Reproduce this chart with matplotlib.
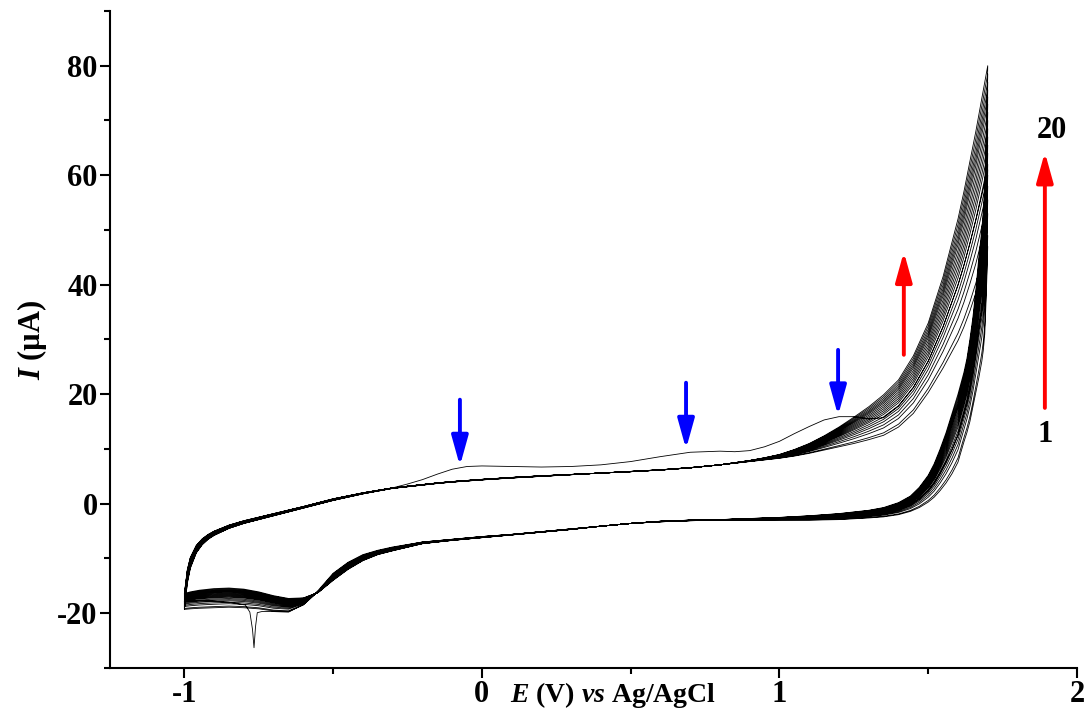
import numpy as np
import matplotlib
matplotlib.use('Agg')
import matplotlib.pyplot as plt
from matplotlib.ticker import MultipleLocator

# ---- data ----
# anodic sweep potentials (V)
E_an = [-1.0, -0.99, -0.98, -0.96, -0.94, -0.92, -0.90, -0.85, -0.80, -0.70,
        -0.60, -0.50, -0.40, -0.30, -0.25, -0.20, -0.15, -0.10, -0.05,
        0.0, 0.1, 0.2, 0.3, 0.4, 0.5, 0.6, 0.7, 0.8, 0.85, 0.9, 0.95,
        1.0, 1.05, 1.1, 1.15, 1.2, 1.25, 1.3, 1.35,
        1.4, 1.45, 1.5, 1.55, 1.6, 1.62, 1.64, 1.66, 1.68, 1.70]

# cycle 1 anodic (with the three oxidation waves)
I_an_c1 = [-17.8, -14.0, -11.5, -8.9, -7.4, -6.4, -5.7, -4.5, -3.6, -2.2,
           -0.8, 0.6, 1.8, 2.9, 3.6, 4.4, 5.4, 6.3, 6.8,
           6.9, 6.8, 6.7, 6.8, 7.1, 7.7, 8.6, 9.4, 9.6, 9.5, 9.7, 10.4,
           11.4, 12.8, 14.1, 15.3, 15.9, 15.9, 15.5, 15.7,
           17.8, 21.2, 26.0, 32.3, 40.0, 43.6, 47.5, 51.8, 56.3, 61.0]

# lowest regular cycle (2) anodic
I_an_lo = [-19.3, -14.5, -11.8, -9.0, -7.5, -6.5, -5.8, -4.5, -3.6, -2.2,
           -0.8, 0.6, 1.8, 2.8, 3.1, 3.4, 3.7, 3.95, 4.15,
           4.35, 4.7, 5.0, 5.3, 5.6, 5.9, 6.2, 6.6, 7.1, 7.4, 7.7, 8.0,
           8.3, 8.7, 9.2, 9.8, 10.4, 11.0, 11.7, 12.5,
           14.0, 16.5, 20.3, 24.8, 29.8, 32.3, 35.2, 38.5, 42.5, 47.0]

# last cycle (20) anodic
I_an_hi = [-16.4, -12.0, -9.8, -7.6, -6.4, -5.6, -5.0, -3.9, -3.1, -1.8,
           -0.5, 0.9, 2.0, 2.9, 3.2, 3.5, 3.8, 4.05, 4.25,
           4.45, 4.8, 5.1, 5.35, 5.6, 5.85, 6.15, 6.55, 7.1, 7.5, 7.9, 8.4,
           9.0, 9.9, 11.0, 12.4, 14.0, 15.8, 17.7, 19.9,
           22.6, 27.0, 33.0, 41.5, 52.0, 57.0, 62.5, 68.0, 74.0, 80.0]

# cathodic sweep potentials (V)
E_ca = [1.70, 1.698, 1.695, 1.69, 1.685, 1.68, 1.67, 1.66, 1.65, 1.64, 1.63, 1.62,
        1.60, 1.58, 1.56, 1.54, 1.52, 1.50, 1.47, 1.44, 1.40, 1.35, 1.30,
        1.20, 1.10, 1.0, 0.9, 0.8, 0.7, 0.6, 0.5, 0.4, 0.3, 0.2, 0.1, 0.0,
        -0.1, -0.2, -0.3, -0.35, -0.4, -0.45, -0.5, -0.55, -0.6, -0.65, -0.7,
        -0.75, -0.8, -0.85, -0.9, -0.95, -0.98, -1.0]

I_ca_lo = [47, 43, 38, 31, 28, 26, 23, 20.3, 17.5, 15, 13, 11.3,
           7.6, 5.5, 3.8, 2.4, 1.2, 0.3, -0.7, -1.4, -2.0, -2.4, -2.6,
           -2.9, -3.0, -3.0, -3.0, -3.0, -3.1, -3.3, -3.6, -4.1, -4.6, -5.1, -5.6, -6.0,
           -6.5, -7.0, -8.0, -8.6, -9.4, -10.8, -12.8, -16.0, -18.5, -19.7, -19.6,
           -19.2, -19.0, -18.9, -19.0, -19.1, -19.2, -19.3]

I_ca_hi = [80, 74, 67, 58, 53.5, 50, 45, 39, 34, 30, 26.5, 24,
           20, 16.5, 13, 10, 7.3, 5.2, 3.0, 1.4, 0.2, -0.7, -1.2,
           -1.8, -2.2, -2.5, -2.7, -2.9, -3.0, -3.2, -3.6, -4.1, -4.7, -5.2, -5.7, -6.2,
           -6.7, -7.3, -8.6, -9.3, -10.4, -12.0, -14.0, -16.2, -17.2, -17.3, -16.8,
           -16.1, -15.6, -15.4, -15.5, -15.8, -16.1, -16.4]

# cycle 1 cathodic: same potentials down to -0.7 V, then the sharp spike
E_ca1_tail = [-0.74, -0.755, -0.761, -0.766, -0.771, -0.78, -0.795, -0.85, -0.9, -0.95, -1.0]
I_ca1 = [61, 56, 50, 42.5, 38.5, 35.5, 32, 28, 24.5, 21, 18.5, 16.5,
         12.6, 9.9, 7.7, 5.6, 3.8, 2.4, 0.9, -0.2, -1.1, -1.7, -2.0,
         -2.4, -2.7, -2.8, -2.9, -3.0, -3.1, -3.3, -3.6, -4.1, -4.6, -5.1, -5.6, -6.0,
         -6.5, -7.0, -7.9, -8.5, -9.3, -10.7, -12.7, -15.8, -18.4, -19.8, -19.7,
         -19.7, -19.9, -22.5, -26.3, -23.0, -19.8, -18.5, -18.0, -17.8, -17.7, -17.8]

# anodic vertex current of cycles 2..20 (uA), sets where each cycle sits in the band
vertex_I = [47, 49, 53, 55.5, 58, 60, 62, 64, 65.5, 67, 68.5, 70, 71.5, 73,
            74.3, 75.6, 77, 78.5, 80]

# arrows
blue_x = [-0.074, 0.686, 1.197]
blue_from = [19.0, 22.1, 28.1]
blue_to = [6.9, 10.0, 16.1]
red_x = [1.418, 1.892]
red_from = [27.2, 17.5]
red_to = [46.0, 64.2]

# ---- build the continuous trace ----
an_lo, an_hi = np.array(I_an_lo), np.array(I_an_hi)
ca_lo, ca_hi = np.array(I_ca_lo), np.array(I_ca_hi)
v0, v1 = vertex_I[0], vertex_I[-1]
E_ca1 = E_ca[:47] + E_ca1_tail

E_all = [np.array(E_an), np.array(E_ca1)]
I_all = [np.array(I_an_c1), np.array(I_ca1)]
for v in vertex_I:
    w = (v - v0) / (v1 - v0)
    E_all += [np.array(E_an), np.array(E_ca)]
    I_all += [an_lo + w * (an_hi - an_lo), ca_lo + w * (ca_hi - ca_lo)]
E_trace = np.concatenate(E_all)
I_trace = np.concatenate(I_all)

# ---- plot ----
plt.rcParams['font.family'] = 'Liberation Serif'
plt.rcParams['font.weight'] = 'bold'
plt.rcParams['axes.unicode_minus'] = False
plt.rcParams['mathtext.fontset'] = 'custom'
plt.rcParams['mathtext.it'] = 'Liberation Serif:italic:bold'
plt.rcParams['mathtext.rm'] = 'Liberation Serif:bold'

fig = plt.figure(figsize=(10.87, 7.27), dpi=100)
ax = fig.add_axes([0.1012, 0.0812, 0.8896, 0.9037])

ax.plot(E_trace, I_trace, color='black', lw=0.6)

for x, y0, y1 in zip(blue_x, blue_from, blue_to):
    ax.annotate('', xy=(x, y1), xytext=(x, y0),
                arrowprops=dict(arrowstyle='-|>,head_length=0.9,head_width=0.25',
                                color='blue', lw=2.8, mutation_scale=20,
                                shrinkA=0, shrinkB=0))
for x, y0, y1 in zip(red_x, red_from, red_to):
    ax.annotate('', xy=(x, y1), xytext=(x, y0),
                arrowprops=dict(arrowstyle='-|>,head_length=0.9,head_width=0.25',
                                color='red', lw=2.8, mutation_scale=20,
                                shrinkA=0, shrinkB=0))

ax.text(1.916, 68.2, '20', ha='center', va='center', fontsize=22, fontweight='bold')
ax.text(1.892, 12.6, '1', ha='center', va='center', fontsize=22, fontweight='bold')

ax.set_xlim(-1.25, 2.0)
ax.set_ylim(-30, 90)
ax.spines['top'].set_visible(False)
ax.spines['right'].set_visible(False)
ax.spines['left'].set_linewidth(1.5)
ax.spines['bottom'].set_linewidth(1.5)
ax.xaxis.set_major_locator(MultipleLocator(1))
ax.xaxis.set_minor_locator(MultipleLocator(0.5))
ax.yaxis.set_major_locator(MultipleLocator(20))
ax.yaxis.set_minor_locator(MultipleLocator(10))
ax.tick_params(which='major', direction='out', length=7, width=1.5, labelsize=22, pad=2)
ax.tick_params(which='minor', direction='out', length=4, width=1.5)

ax.set_ylabel(r'$I$ (µA)', fontsize=22, fontweight='bold', labelpad=6)
ax.set_xlabel(r'$E$ (V) $vs$ Ag/AgCl', fontsize=20, fontweight='bold')
ax.xaxis.set_label_coords(0.52, -0.041)
ax.xaxis.label.set_va('center')

fig.savefig('out.png', dpi=100)
